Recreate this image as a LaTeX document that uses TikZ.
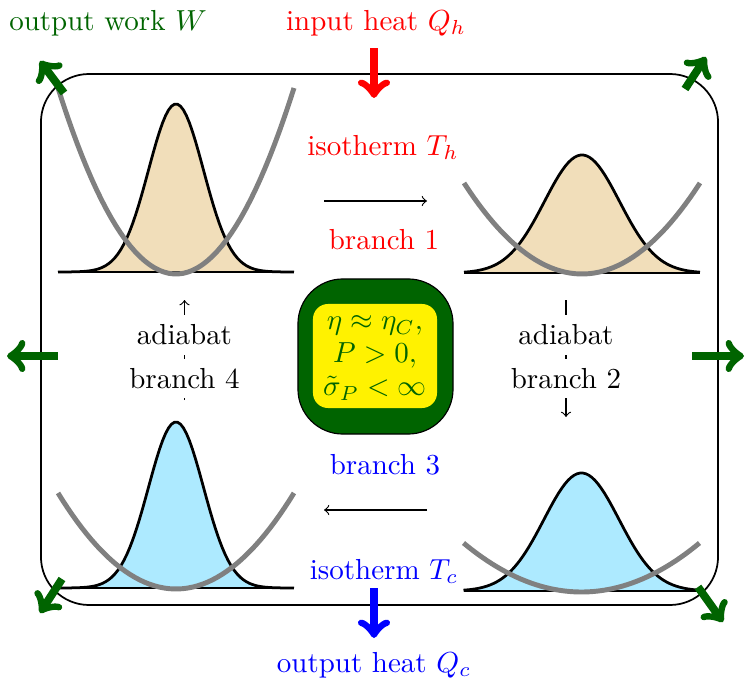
\documentclass[tikz,border=0pt]{standalone}
\usepackage{amsmath}
\usetikzlibrary{shapes,backgrounds}
\usetikzlibrary{arrows}
\definecolor{workgreen}{RGB}{0,100,0}
\definecolor{hotfill}{RGB}{241,222,186}
\definecolor{coldfill}{RGB}{173,234,255}
\tikzset{
  heatarrow/.style={->,line width=2.75pt},
  thinarrow/.style={->,line width=0.4pt},
  label/.style={anchor=base,inner sep=0pt},
  adiabat/.style={anchor=base,fill=white}
}
\begin{document}
\begin{tikzpicture}[x=0.345pt,y=-0.345pt]
\useasboundingbox (0,0) rectangle (748,687);
\node[draw,line width=0.6pt,minimum width=233.6pt,minimum height=183.2pt,rounded corners=16.6pt] (frame) at (379.5,339.5) {};
% edit here for the four panels: centre/base/peak/sigma/potential end/potential base/fill
\foreach \cx/\base/\peak/\sig/\pend/\pbase/\col in {176/272/104/27.5/88/274/hotfill,582/273/155/37.5/183/274/hotfill,581.5/591/473/37.5/543/592/coldfill,176/588/422/27.5/493/589/coldfill}
{
\fill[\col] plot[domain=-118:118,samples=80,variable=\t] ({\cx+\t},{\base-(\base-\peak)*exp(-0.5*(\t/\sig)*(\t/\sig))}) -- cycle;
\draw[line width=0.95pt] plot[domain=-118:118,samples=80,variable=\t] ({\cx+\t},{\base-(\base-\peak)*exp(-0.5*(\t/\sig)*(\t/\sig))});
\draw[line width=0.95pt] (\cx-118,\base) -- (\cx+118,\base);
\draw[color=gray,line width=1.7pt] plot[domain=-118:118,samples=50,variable=\t] ({\cx+\t},{\pbase-(\pbase-\pend)*(\t/118)*(\t/118)});
}
% centre box
\node[draw,fill=workgreen,line width=0.4pt,minimum width=53.5pt,minimum height=53.5pt,rounded corners=15.5pt] (outer) at (375.5,356.5) {};
\node[fill=yellow,minimum width=42.8pt,minimum height=35.9pt,rounded corners=5.2pt] (inner) at (375,356) {};
\node[text=workgreen,align=center,inner sep=0pt] (eff) at (375,358) {$\eta\approx\eta_C,$\\[-0.6pt]$P>0,$\\[-0.6pt]$\tilde\sigma_P<\infty$};
% labels
\node[label,text=workgreen] (work) at (108,30) {output work $W$};
\node[label,text=red] (qh) at (376,30) {input heat $Q_h$};
\node[label,text=red] (th) at (383,155.5) {isotherm $T_h$};
\node[label,text=red] (b1) at (384,250) {branch 1};
\node[label,text=blue] (b3) at (385,474) {branch 3};
\node[label,text=blue] (tc) at (384,579) {isotherm $T_c$};
\node[label,text=blue] (qc) at (374,672.5) {output heat $Q_c$};
% edit here for the thin arrows
\coordinate (h1) at (324,201);
\coordinate (h2) at (427,201);
\coordinate (c1) at (427,510);
\coordinate (c2) at (324,510);
\coordinate (l1) at (184.5,400);
\coordinate (l2) at (184.5,300);
\coordinate (r1) at (566,300);
\coordinate (r2) at (566,417);
\foreach \a/\b in {h1/h2,c1/c2,l1/l2,r1/r2}
\draw[thinarrow] (\a) -- (\b);
\node[adiabat] (al) at (184.5,345) {adiabat};
\node[adiabat] (bl) at (184.5,388.5) {branch 4};
\node[adiabat] (ar) at (566,345) {adiabat};
\node[adiabat] (br) at (566,388.5) {branch 2};
% edit here for the heavy arrows
\coordinate (wa) at (64,93);
\coordinate (wb) at (40,61);
\coordinate (wc) at (685,89);
\coordinate (wd) at (706,57);
\coordinate (we) at (58,356);
\coordinate (wf) at (7,356);
\coordinate (wg) at (692,356);
\coordinate (wh) at (744,356);
\coordinate (wi) at (62,579);
\coordinate (wj) at (40,613);
\coordinate (wk) at (698,587);
\coordinate (wl) at (723,622);
\foreach \a/\b in {wa/wb,wc/wd,we/wf,wg/wh,wi/wj,wk/wl}
\draw[heatarrow,color=workgreen] (\a) -- (\b);
\coordinate (ha) at (374,48);
\coordinate (hb) at (374,98);
\coordinate (ca) at (374,588);
\coordinate (cb) at (374,638);
\draw[heatarrow,color=red] (ha) -- (hb);
\draw[heatarrow,color=blue] (ca) -- (cb);
\end{tikzpicture}
\end{document}
